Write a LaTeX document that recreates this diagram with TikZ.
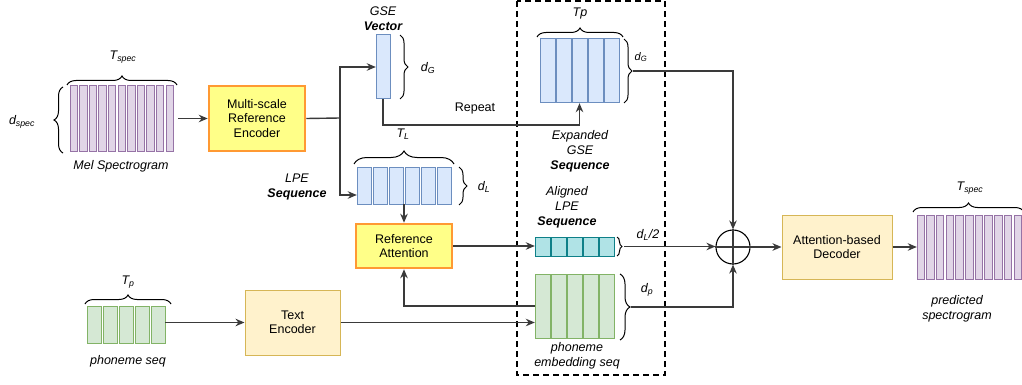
\documentclass[tikz,border=0pt]{standalone}
\usepackage{fontspec}
\setmainfont{Liberation Sans}
\usetikzlibrary{arrows.meta,decorations.pathreplacing,fit}
\definecolor{melfill}{HTML}{E1D5E7}
\definecolor{melline}{HTML}{9673A6}
\definecolor{blufill}{HTML}{DAE8FC}
\definecolor{bluline}{HTML}{6C8EBF}
\definecolor{grnfill}{HTML}{D5E8D4}
\definecolor{grnline}{HTML}{82B366}
\definecolor{tealfill}{HTML}{B0E3E6}
\definecolor{tealline}{HTML}{0E8088}
\definecolor{ylw}{HTML}{FFFF88}
\definecolor{orng}{HTML}{FF9933}
\definecolor{cream}{HTML}{FFF2CC}
\definecolor{sand}{HTML}{D6B656}
\definecolor{wirecol}{HTML}{3A3A3A}
\begin{document}
\begin{tikzpicture}[x=1pt,y=-1pt,
	lbl/.style={font=\fontsize{12.5}{15}\selectfont\itshape, align=center, inner sep=0pt},
	blk/.style={font=\fontsize{12.5}{14.5}\selectfont, align=center},
	refblk/.style={blk, draw=orng, fill=ylw, line width=2.5pt, minimum width=96pt},
	decblk/.style={blk, draw=sand, fill=cream, line width=1pt},
	seq/.style={inner sep=0pt},
	melcell/.style={draw=melline, fill=melfill, line width=1pt},
	blucell/.style={draw=bluline, fill=blufill, line width=1pt},
	grncell/.style={draw=grnline, fill=grnfill, line width=1pt},
	tealcell/.style={draw=tealline, fill=tealfill, line width=1pt},
	wire/.style={draw=wirecol, line width=1.4pt},
	arr/.style={wire, -{Stealth[length=9pt,width=7.5pt]}},
	brc/.style={decorate, decoration={brace, amplitude=#1}, line width=1pt},
	brc/.default=8pt]
	\useasboundingbox (0,0) rectangle (1022,385);
	% dashed frame
	\draw[line width=1.6pt, dash pattern=on 6pt off 4pt] (517,1) rectangle (665,375);
	% mel spectrogram
	\foreach \i in {0,...,10}
		\draw[melcell] ({70+9.6*\i},86) rectangle ++(7.5,65);
	\node[seq, fit={(70,86) (174,151)}] (mel) {};
	\draw[brc=9pt] (67,85) -- (177,85);
	\draw[brc=9pt] (63,153) -- (63,87);
	\node[lbl] (tspec) at (123,57) {T\textsubscript{spec}};
	\node[lbl] (dspec) at (22,122) {d\textsubscript{spec}};
	\node[lbl] (mellbl) at (121,166) {Mel Spectrogram};
	\node[refblk, minimum height=65pt] (enc) at (257,118.5) {Multi-scale\\Reference\\Encoder};
	% GSE vector
	\draw[blucell] (376,35) rectangle (390,99);
	\node[seq, fit={(376,35) (390,99)}] (gse) {};
	\draw[brc=8pt] (400,35) -- (400,99);
	\node[lbl] (dg) at (428,68) {d\textsubscript{G}};
	\node[lbl] (gselbl) at (383,19) {GSE\\\textbf{Vector}};
	\node[blk] (rep) at (475,108) {Repeat};
	% LPE sequence
	\foreach \i in {0,...,5}
		\draw[blucell] ({357+16*\i},167) rectangle ++(14,37);
	\node[seq, fit={(357,167) (451,204)}] (lpe) {};
	\draw[brc=13pt] (354,164) -- (454,164);
	\draw[brc=8pt] (459,167) -- (459,205);
	\node[lbl] (tl) at (403,134) {T\textsubscript{L}};
	\node[lbl] (dl) at (484,187) {d\textsubscript{L}};
	\node[lbl] (lpelbl) at (297,187) {LPE\\\textbf{Sequence}};
	\node[refblk, minimum height=44pt] (ratt) at (404,246) {Reference\\Attention};
	% expanded GSE sequence
	\foreach \i in {0,...,4}
		\draw[blucell] ({540+16*\i},39) rectangle ++(15,64);
	\node[seq, fit={(540,39) (619,103)}] (exp) {};
	\draw[brc=9pt] (537,37) -- (623,37);
	\draw[brc=8pt] (624,39) -- (624,103);
	\coordinate (gtip) at (633,71);
	\node[lbl] (tp) at (580,13) {Tp};
	\node[lbl, font=\fontsize{11}{13}\selectfont\itshape] (dg2) at (641,57) {d\textsubscript{G}};
	\node[lbl] (explbl) at (580,151) {Expanded\\GSE\\\textbf{Sequence}};
	% aligned LPE sequence
	\foreach \i in {0,...,4}
		\draw[tealcell] ({535+16*\i},237) rectangle ++(15,19);
	\node[seq, fit={(535,237) (614,256)}] (al) {};
	\draw[brc=5pt] (617,237) -- (617,256);
	\coordinate (ltip) at (624,246.5);
	\node[lbl] (dl2) at (648,235) {d\textsubscript{L}/2};
	\node[lbl] (allbl) at (567,207) {Aligned\\LPE\\\textbf{Sequence}};
	% phoneme embedding
	\foreach \i in {0,...,4}
		\draw[grncell] ({535+16*\i},274) rectangle ++(15,64);
	\node[seq, fit={(535,274) (614,338)}] (emb) {};
	\draw[brc=10pt] (620,274) -- (620,340);
	\coordinate (ptip) at (631,307);
	\node[lbl] (dp) at (647,290) {d\textsubscript{p}};
	\node[lbl] (emblbl) at (577,355.5) {phoneme\\embedding seq};
	% phoneme seq + text encoder
	\foreach \i in {0,...,4}
		\draw[grncell] ({87+16*\i},306) rectangle ++(14,37);
	\node[seq, fit={(87,306) (165,343)}] (pho) {};
	\draw[brc=9pt] (85,304) -- (171,304);
	\node[lbl] (tp2) at (128,282) {T\textsubscript{p}};
	\node[lbl] (pholbl) at (128,361) {phoneme seq};
	\node[decblk, minimum width=95pt, minimum height=65pt] (tenc) at (292.5,322.5) {Text\\Encoder};
	% sum and decoder
	\node[circle, draw, line width=1.1pt, minimum size=34pt, inner sep=0pt] (sum) at (733,247) {};
	\draw[wire] (sum.north) -- (sum.south) (sum.west) -- (sum.east);
	\node[decblk, minimum width=110pt, minimum height=64pt] (dec) at (837,247) {Attention-based\\Decoder};
	% predicted spectrogram
	\foreach \i in {0,...,10}
		\draw[melcell] ({917+9.7*\i},215) rectangle ++(7.5,64);
	\node[seq, fit={(917,215) (1022,279)}] (pred) {};
	\draw[brc=9pt] (913,212) -- (1024,212);
	\node[lbl] (tspec2) at (970,188) {T\textsubscript{spec}};
	\node[lbl] (predlbl) at (957,309) {predicted\\spectrogram};
	% connectors
	\coordinate (split) at (340,118);
	\draw[arr, shorten <=4pt] (mel.east) -- (enc.west);
	\draw[wire] (enc.east) -- (split);
	\draw[arr] (split) |- (gse.west);
	\draw[arr] (split) |- ([yshift=-9.5pt]lpe.west);
	\draw[arr] (gse.south) -- ++(0,26) -| (exp.south);
	\draw[arr] (lpe.south) -- (ratt.north);
	\draw[arr] (ratt.east) -- (ratt.east -| al.west);
	\draw[arr] (pho.east |- tenc.west) -- (tenc.west);
	\draw[arr] (tenc.east) -- (tenc.east -| emb.west);
	\draw[arr] (emb.west) -| (ratt.south);
	\draw[arr] (gtip) -| (sum.north);
	\draw[arr] (ltip) -- (ltip -| sum.west);
	\draw[arr] (ptip) -| (sum.south);
	\draw[arr] (sum.east) -- (dec.west);
	\draw[arr] (dec.east) -- (pred.west);
\end{tikzpicture}
\end{document}
